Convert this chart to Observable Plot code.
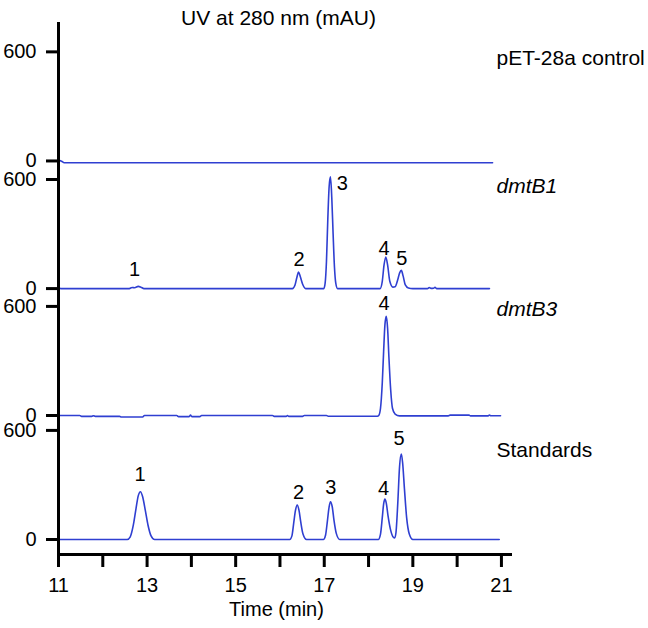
<!DOCTYPE html>
<html><head><meta charset="utf-8">
<script src="https://cdn.jsdelivr.net/npm/d3@7"></script>
<script src="https://cdn.jsdelivr.net/npm/@observablehq/plot@0.6"></script>
<style>
body{margin:0;background:#fff;}
svg{font-family:"Liberation Sans",Arial,Helvetica,sans-serif;}
</style>
</head><body><div id="chart"></div>
<script>
// ---- data (time in min, absorbance in mAU) ----
const samples = ["pET-28a control", "dmtB1", "dmtB3", "Standards"];
const italicSamples = ["dmtB1", "dmtB3"];

const tracePET = [[11.0,5],[11.07,-2],[11.13,-10],[20.80,-10]];

const traceB1 = [[11.0,5],[11.05,0],[12.60,0],[12.66,6],[12.72,5],[12.80,12],[12.86,8],[12.93,0],
  [16.28,0],[16.34,20],[16.38,60],[16.42,91],[16.46,65],[16.51,25],[16.58,0],
  [16.99,0],[17.02,30],[17.05,150],[17.08,380],[17.11,560],[17.14,615],[17.17,500],[17.20,300],[17.23,120],[17.26,30],[17.30,0],
  [18.26,0],[18.31,40],[18.35,130],[18.39,174],[18.43,130],[18.48,40],[18.55,8],[18.60,10],[18.66,50],[18.70,85],[18.74,100],[18.78,70],[18.83,20],[18.90,3],[19.00,0],
  [19.33,0],[19.37,6],[19.41,1],[19.47,2],[19.50,7],[19.54,0],[20.73,0]];

const traceB3 = [[11.0,0],[11.48,0],[11.52,-5],[11.75,-5],[11.79,-1],[11.83,-5],[12.38,-5],[12.42,-8],[12.90,-8],[12.94,0],
  [13.67,0],[13.71,-6],[13.95,-6],[13.98,2],[14.01,-6],[14.19,-6],[14.23,0],[15.83,0],[15.87,-5],[16.14,-5],[16.17,0],[16.20,-5],[16.51,-5],[16.55,0],
  [17.05,0],[17.09,-4],[18.20,-4],[18.23,0],[18.27,40],[18.31,180],[18.34,350],[18.37,500],[18.40,546],[18.43,480],[18.46,320],[18.50,140],[18.54,40],[18.60,8],[18.70,-2],
  [19.80,-2],[19.84,2],[20.27,2],[20.30,-2],[20.70,-2],[20.73,3],[20.76,-1],[20.98,-1]];

const traceStd = [[11.0,0],[12.55,0],[12.62,15],[12.69,80],[12.75,170],[12.80,240],[12.85,263],[12.90,235],[12.96,160],[13.02,80],[13.09,20],[13.17,0],
  [16.22,0],[16.27,20],[16.31,90],[16.35,160],[16.39,189],[16.43,160],[16.47,95],[16.52,30],[16.60,0],
  [16.98,0],[17.03,25],[17.07,100],[17.11,180],[17.14,207],[17.18,180],[17.22,105],[17.27,35],[17.35,0],
  [18.22,0],[18.27,30],[18.31,120],[18.34,195],[18.37,222],[18.40,200],[18.44,130],[18.50,50],[18.56,12],[18.59,8],
  [18.62,40],[18.66,200],[18.70,400],[18.74,470],[18.77,420],[18.81,280],[18.86,120],[18.92,30],[19.00,0],[20.95,0]];

const traces = [tracePET, traceB1, traceB3, traceStd];

// peak number annotations: [sample index, time, level (mAU), text]
const peakLabels = [
  [1,12.72,106,"1"],[1,16.43,161,"2"],[1,17.41,577,"3"],[1,18.35,221,"4"],[1,18.75,163,"5"],
  [2,18.35,618,"4"],
  [3,12.84,357,"1"],[3,16.42,260,"2"],[3,17.15,288,"3"],[3,18.34,279,"4"],[3,18.69,554,"5"]
];
const sampleLabelLevel = [566, 564, 583, 492];

const xTicks = d3.range(11, 22);
const yTickValues = [0, 600];
const titleText = "UV at 280 nm (mAU)";
const xLabelText = "Time (min)";

// ---- layout ----
const panelOffset = [2082, 1380, 682, 0];
const xDomain = [11, 21.25];
const yDomain = [-82.5, 2843.5];
const lineColor = "#2f3fd1";

const rows = traces.flatMap((tr, i) => tr.map(([t, v]) => ({sample: samples[i], t, y: v + panelOffset[i]})));
const yTicks = [], yTickLabel = new Map();
panelOffset.forEach(o => yTickValues.forEach(v => { yTicks.push(o + v); yTickLabel.set(o + v, String(v)); }));
const peakRows = peakLabels.map(([i, t, lv, txt]) => ({t, y: lv + panelOffset[i], txt}));
const sampleRows = samples.map((s, i) => ({s, y: sampleLabelLevel[i] + panelOffset[i], italic: italicSamples.includes(s)}));

const chart = Plot.plot({
  width: 648, height: 628,
  marginLeft: 58, marginRight: 136, marginTop: 22, marginBottom: 74,
  style: {background: "white", fontFamily: "'Liberation Sans', Arial, Helvetica, sans-serif", fontSize: "20px", color: "black"},
  x: {domain: xDomain},
  y: {domain: yDomain},
  marks: [
    Plot.line(rows, {x: "t", y: "y", z: "sample", stroke: lineColor, strokeWidth: 1.6, curve: "monotone-x"}),
    Plot.text(peakRows, {x: "t", y: "y", text: "txt", fontSize: 20}),
    Plot.text(sampleRows.filter(d => !d.italic), {y: "y", text: "s", frameAnchor: "right", dx: -16, textAnchor: "start", fontSize: 21}),
    Plot.text(sampleRows.filter(d => d.italic), {y: "y", text: "s", frameAnchor: "right", dx: -16, textAnchor: "start", fontSize: 21, fontStyle: "italic"}),
    Plot.ruleX([xDomain[0]], {strokeWidth: 3}),
    Plot.ruleY([yDomain[0]], {strokeWidth: 3}),
    Plot.axisX({ticks: xTicks, tickSize: 13, tickPadding: 10, strokeWidth: 3, fontSize: 20, label: null,
      tickFormat: d => (d % 2 === 1 ? String(d) : "")}),
    Plot.axisY({ticks: yTicks, tickSize: 12, tickPadding: 10, strokeWidth: 3, fontSize: 20, label: null,
      tickFormat: d => yTickLabel.get(d)}),
    Plot.text([titleText], {frameAnchor: "top", dy: -12, dx: -7, fontSize: 21}),
    Plot.text([xLabelText], {frameAnchor: "bottom", dy: 61, dx: -9, fontSize: 20})
  ]
});
document.getElementById("chart").appendChild(chart);
</script>
</body></html>
